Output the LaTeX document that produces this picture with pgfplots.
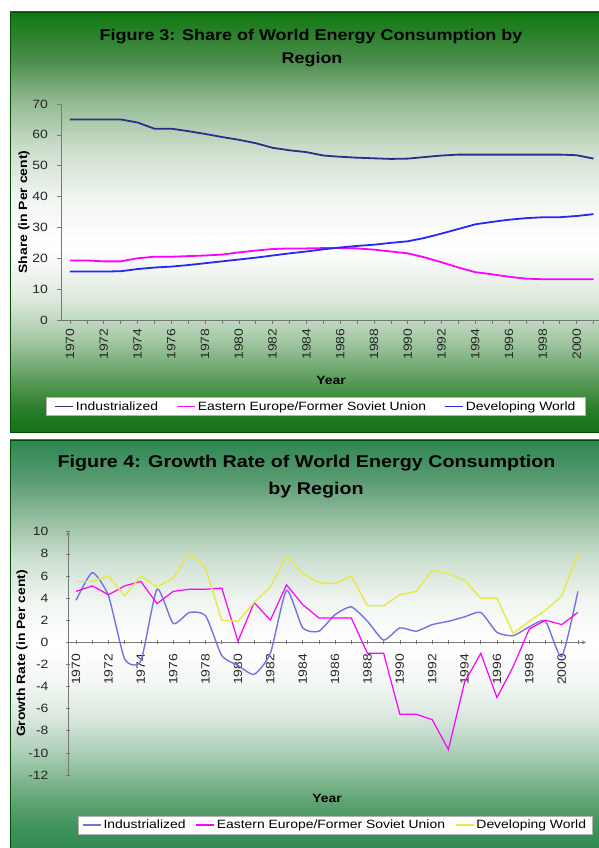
\documentclass[border=0pt]{standalone}
\usepackage{pgfplots}
\usepackage{pgfplotstable}
\pgfplotsset{compat=1.18}
\usepackage{fontspec}
\setmainfont{Liberation Sans}[FakeStretch=1.16]

\definecolor{indone}{RGB}{45,45,140}
\definecolor{eeone}{RGB}{255,0,255}
\definecolor{devone}{RGB}{40,40,240}
\definecolor{indtwo}{RGB}{115,115,225}
\definecolor{eetwo}{RGB}{255,0,255}
\definecolor{devtwo}{RGB}{232,232,70}
\definecolor{axgray}{RGB}{120,120,120}

\pgfdeclareverticalshading{panelone}{100bp}{%
rgb(0bp)=(0.078,0.451,0.078); rgb(25bp)=(0.078,0.451,0.078);
rgb(27.6bp)=(0.157,0.49,0.157); rgb(31.2bp)=(0.353,0.608,0.353);
rgb(36bp)=(0.647,0.784,0.647); rgb(40.7bp)=(0.863,0.91,0.863);
rgb(46.7bp)=(1,1,1); rgb(52.6bp)=(0.949,0.965,0.949);
rgb(58.6bp)=(0.804,0.871,0.804); rgb(64.5bp)=(0.569,0.725,0.569);
rgb(69.3bp)=(0.294,0.549,0.294); rgb(75bp)=(0.059,0.471,0.059);
rgb(100bp)=(0.059,0.471,0.059)}

\pgfdeclareverticalshading{paneltwo}{100bp}{%
rgb(0bp)=(0.176,0.529,0.314); rgb(25bp)=(0.176,0.529,0.314);
rgb(28bp)=(0.235,0.569,0.353); rgb(31.6bp)=(0.373,0.647,0.451);
rgb(36.4bp)=(0.627,0.784,0.675); rgb(41.3bp)=(0.843,0.902,0.863);
rgb(46.1bp)=(0.961,0.973,0.965); rgb(50.9bp)=(1,1,1);
rgb(55.7bp)=(0.941,0.961,0.945); rgb(60.5bp)=(0.804,0.882,0.824);
rgb(65.4bp)=(0.588,0.745,0.627); rgb(70.2bp)=(0.353,0.608,0.451);
rgb(75bp)=(0.176,0.529,0.314); rgb(100bp)=(0.176,0.529,0.314)}

\pgfplotstableread{
year ind ee dev
1970 65.0 19.3 15.7
1971 65.0 19.3 15.7
1972 65.0 19.0 15.7
1973 65.0 19.0 15.8
1974 64.0 20.0 16.5
1975 62.0 20.5 17.0
1976 62.0 20.5 17.3
1977 61.2 20.7 17.8
1978 60.3 20.9 18.4
1979 59.3 21.2 19.0
1980 58.4 21.9 19.6
1981 57.3 22.5 20.2
1982 55.8 23.0 20.9
1983 55.0 23.2 21.6
1984 54.4 23.2 22.2
1985 53.3 23.3 22.9
1986 52.9 23.3 23.5
1987 52.6 23.2 24.0
1988 52.4 22.8 24.4
1989 52.2 22.2 25.0
1990 52.3 21.6 25.5
1991 52.8 20.3 26.6
1992 53.3 18.7 28.0
1993 53.6 17.0 29.5
1994 53.6 15.5 31.0
1995 53.6 14.8 31.8
1996 53.6 14.0 32.5
1997 53.6 13.4 33.0
1998 53.6 13.2 33.3
1999 53.6 13.2 33.3
2000 53.4 13.2 33.7
2001 52.3 13.2 34.3
}\sharetable

\pgfplotstableread{
year ind ee dev
1970 3.8 4.6 5.5
1971 6.3 5.1 5.5
1972 4.2 4.3 6.0
1973 -1.5 5.1 4.2
1974 -1.7 5.5 6.0
1975 4.8 3.5 5.0
1976 1.7 4.6 5.8
1977 2.7 4.8 8.1
1978 2.4 4.8 6.7
1979 -1.2 4.9 2.0
1980 -2.1 0.1 1.9
1981 -2.9 3.6 3.6
1982 -1.0 2.0 5.0
1983 4.7 5.2 7.8
1984 1.3 3.4 6.2
1985 1.0 2.2 5.4
1986 2.5 2.2 5.3
1987 3.2 2.2 6.0
1988 1.9 -1.0 3.3
1989 0.2 -1.0 3.3
1990 1.3 -6.5 4.3
1991 1.0 -6.5 4.6
1992 1.6 -7.0 6.5
1993 1.9 -9.7 6.2
1994 2.3 -3.6 5.6
1995 2.7 -1.0 4.0
1996 0.9 -5.0 4.0
1997 0.6 -2.2 0.8
1998 1.4 1.2 1.9
1999 1.9 2.0 2.9
2000 -1.3 1.6 4.2
2001 4.6 2.7 8.0
}\growthtable

\pgfplotsset{
  common/.style={
    scale only axis, anchor=south west, no markers,
    xmin=1969.5, xmax=2001.5,
    xtick={1970,...,2001},
    xticklabels={1970,,1972,,1974,,1976,,1978,,1980,,1982,,1984,,1986,,1988,,1990,,1992,,1994,,1996,,1998,,2000},
    tick label style={font=\fontsize{12}{14}\selectfont, text=black!85},
    x tick label style={rotate=90, anchor=east},
    /pgf/number format/assume math mode=true,
    tick align=outside, major tick length=4pt,
    tick style={axgray, line width=0.6pt},
    axis line style={axgray, line width=0.8pt},
    every inner x axis line/.append style={-},
    every outer x axis line/.append style={-},
    every outer y axis line/.append style={-},
    label style={font=\bfseries\fontsize{12}{14}\selectfont},
    legend image code/.code={\draw[#1] (0pt,0pt) -- (18pt,0pt);},
    clip=false,
  }
}

\begin{document}
\begin{tikzpicture}[x=1pt,y=1pt]
\useasboundingbox (0,0) rectangle (599,848);
\clip (0,0) rectangle (599,848);
\fill[white] (0,0) rectangle (599,848);
% panels
\shade[shading=paneltwo] (10,-7) rectangle (610,408);
\draw[black!70!green, line width=0.6pt] (10,-7) rectangle (610,408);
\shade[shading=panelone] (10,416) rectangle (610,836);
\draw[black!70!green, line width=0.6pt] (10,416) rectangle (610,836);

% titles
\node[font=\bfseries\fontsize{15.5}{18}\selectfont] at (311,811) {Figure 3: Share of World Energy Consumption by};
\node[font=\bfseries\fontsize{15.5}{18}\selectfont] at (312,788) {Region};
\node[font=\bfseries\fontsize{17}{20}\selectfont] at (306.5,385) {Figure 4: Growth Rate of World Energy Consumption};
\node[font=\bfseries\fontsize{17}{20}\selectfont] at (316,358) {by Region};

% chart 1
\begin{axis}[common,
  at={(61.5pt,528pt)}, width=540.5pt, height=216pt,
  ymin=0, ymax=70, ytick={0,10,...,70},
  axis x line*=bottom, axis y line*=left,
  xticklabel shift=1pt, yticklabel shift=6pt,
  xlabel={Year}, ylabel={Share (in Per cent)},
  xlabel style={at={(axis description cs:0.4986,-0.278)}, anchor=center, font=\bfseries\fontsize{12}{14}\selectfont},
  ylabel style={at={(axis description cs:-0.0694,0.5)}, anchor=center, font=\bfseries\fontsize{12}{14}\selectfont},
  legend columns=3,
  legend style={at={(axis description cs:-0.0287,-0.4005)}, anchor=west,
    draw=gray!60, fill=white, inner xsep=8pt, inner ysep=2pt,
    font=\fontsize{12}{14}\selectfont,
    /tikz/every even column/.append style={column sep=16pt}},
]
\addplot[indone, line width=1.8pt] table[x=year,y=ind] {\sharetable};
\addlegendentry{Industrialized}
\addplot[eeone, line width=1.8pt] table[x=year,y=ee] {\sharetable};
\addlegendentry{Eastern Europe/Former Soviet Union}
\addplot[devone, line width=1.8pt] table[x=year,y=dev] {\sharetable};
\addlegendentry{Developing World}
\end{axis}

% chart 2
\begin{axis}[common,
  at={(68pt,73pt)}, width=518pt, height=243.3pt,
  ymin=-12, ymax=10, ytick={-12,-10,...,10},
  axis x line=middle, axis y line=left,
  xticklabel shift=6pt, yticklabel shift=14pt,
  xlabel={Year}, ylabel={Growth Rate (in Per cent)},
  xlabel style={at={(axis description cs:0.5,-0.0945)}, anchor=center, font=\bfseries\fontsize{12}{14}\selectfont},
  ylabel style={at={(axis description cs:-0.0888,0.5)}, anchor=center, font=\bfseries\fontsize{12}{14}\selectfont},
  legend columns=3,
  legend style={at={(axis description cs:0.0193,-0.2055)}, anchor=west,
    draw=gray!60, fill=white, inner xsep=4pt, inner ysep=2pt,
    font=\fontsize{12}{14}\selectfont,
    /tikz/every even column/.append style={column sep=8pt}},
]
\addplot[indtwo, line width=1.4pt, smooth, tension=0.35] table[x=year,y=ind] {\growthtable};
\addlegendentry{Industrialized}
\addplot[eetwo, line width=1.2pt] table[x=year,y=ee] {\growthtable};
\addlegendentry{Eastern Europe/Former Soviet Union}
\addplot[devtwo, line width=1.4pt] table[x=year,y=dev] {\growthtable};
\addlegendentry{Developing World}
\end{axis}
\end{tikzpicture}
\end{document}
